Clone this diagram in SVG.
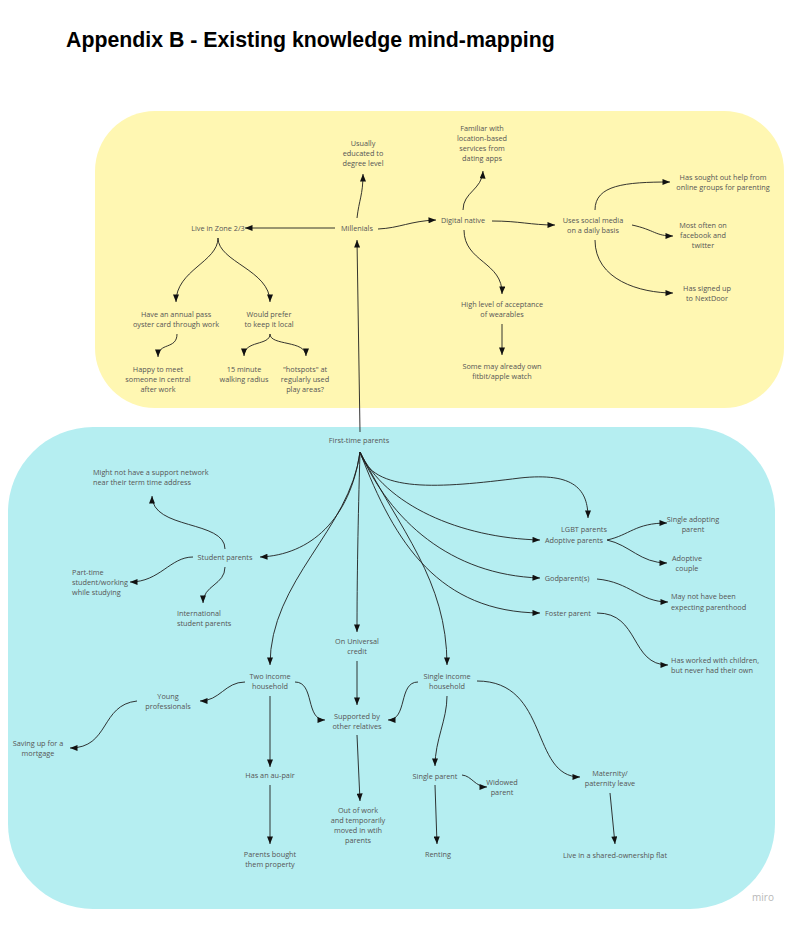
<svg xmlns="http://www.w3.org/2000/svg" width="796" height="952" viewBox="0 0 796 952">
<style>
.t{font-family:"Open Sans","Noto Sans",sans-serif;font-size:7.3px;fill:#555;text-anchor:middle}
.l{text-anchor:start}
.c path{fill:none;stroke:#1e1e1e;stroke-width:0.9;marker-end:url(#ah)}
.title{font-family:"Liberation Sans",Arial,sans-serif;font-weight:bold;font-size:21.3px;fill:#000}
</style>
<defs>
<marker id="ah" viewBox="0 0 10 8" refX="10" refY="4" markerWidth="8.5" markerHeight="6" markerUnits="userSpaceOnUse" orient="auto">
<path d="M0,0 L10,4 L0,8 z" fill="#111"/>
</marker>
</defs>
<rect width="796" height="952" fill="#fff"/>
<text class="title" x="66" y="47">Appendix B - Existing knowledge mind-mapping</text>
<g id="panels">
<rect x="95" y="111" width="689" height="297" rx="60" fill="#fff7b2"/>
<rect x="8" y="427" width="767" height="482" rx="85" fill="#b5eef1"/>
</g>
<g class="c" id="connectors">
<path d="M335,228 L245,228"/>
<path d="M357,218 C359,200 363,195 363,174"/>
<path d="M378,229 C400,228 410,221 436,220"/>
<path d="M360,432 L357,240"/>
<path d="M218,238 C218,262 176,270 176,302"/>
<path d="M218,238 C218,262 270,270 270,302"/>
<path d="M177,334 C177,350 158,342 158,357"/>
<path d="M270,334 C270,346 244,340 244,356"/>
<path d="M270,334 C270,346 306,340 306,356"/>
<path d="M463,210 C463,192 482,190 483,171"/>
<path d="M464,230 C464,262 503,262 502,294"/>
<path d="M492,221 C520,221 530,225 555,225"/>
<path d="M502,324 L502,355"/>
<path d="M595,210 C595,185 625,182 670,182"/>
<path d="M632,225 C655,230 655,236 673,236"/>
<path d="M595,240 C595,280 640,293 673,293"/>
<path d="M360,452 C350,520 310,555 260,557"/>
<path d="M225,549 C225,520 152,530 152,496"/>
<path d="M193,557 C170,557 160,582 130,582"/>
<path d="M225,567 C225,585 203,585 203,603"/>
<path d="M360,452 C350,530 270,580 270,665"/>
<path d="M360,452 C358,520 357,580 357,632"/>
<path d="M360,452 C372,494 440,488 520,478 C575,472 588,490 588,518"/>
<path d="M360,452 C385,505 460,538 540,540"/>
<path d="M360,452 C390,520 450,575 540,578"/>
<path d="M360,452 C395,545 440,612 540,613"/>
<path d="M360,452 C400,530 447,580 447,665"/>
<path d="M607,540 C630,535 635,523 667,523"/>
<path d="M607,540 C630,545 640,563 667,563"/>
<path d="M597,579 C630,582 640,602 668,602"/>
<path d="M597,613 C640,613 630,665 668,665"/>
<path d="M357,661 L357,705"/>
<path d="M245,682 C225,682 220,701 200,701"/>
<path d="M137,701 C100,705 110,748 70,748"/>
<path d="M295,682 C315,682 305,720 325,720"/>
<path d="M418,682 C398,682 408,720 388,720"/>
<path d="M270,696 L270,767"/>
<path d="M270,785 L270,844"/>
<path d="M357,735 L360,801"/>
<path d="M447,696 C447,720 435,740 435,766"/>
<path d="M462,775 C472,776 475,787 487,787"/>
<path d="M435,785 L437,844"/>
<path d="M477,681 C550,681 530,777 580,777"/>
<path d="M610,793 L615,844"/>
</g>
<g id="n-usually"><text class="t" x="363" y="146"><tspan x="363">Usually</tspan><tspan x="363" dy="10">educated to</tspan><tspan x="363" dy="10">degree level</tspan></text></g>
<g id="n-familiar"><text class="t" x="482" y="131"><tspan x="482">Familiar with</tspan><tspan x="482" dy="10">location-based</tspan><tspan x="482" dy="10">services from</tspan><tspan x="482" dy="10">dating apps</tspan></text></g>
<g id="n-zone"><text class="t" x="218" y="231">Live in Zone 2/3</text></g>
<g id="n-millenials"><text class="t" x="357" y="231">Millenials</text></g>
<g id="n-digital"><text class="t" x="463" y="223">Digital native</text></g>
<g id="n-social"><text class="t" x="593" y="223"><tspan x="593">Uses social media</tspan><tspan x="593" dy="10">on a daily basis</tspan></text></g>
<g id="n-sought"><text class="t" x="723" y="180"><tspan x="723">Has sought out help from</tspan><tspan x="723" dy="10">online groups for parenting</tspan></text></g>
<g id="n-facebook"><text class="t" x="703" y="228"><tspan x="703">Most often on</tspan><tspan x="703" dy="10">facebook and</tspan><tspan x="703" dy="10">twitter</tspan></text></g>
<g id="n-nextdoor"><text class="t" x="707" y="291"><tspan x="707">Has signed up</tspan><tspan x="707" dy="10">to NextDoor</tspan></text></g>
<g id="n-wearables"><text class="t" x="502" y="307"><tspan x="502">High level of acceptance</tspan><tspan x="502" dy="10">of wearables</tspan></text></g>
<g id="n-fitbit"><text class="t" x="502" y="369"><tspan x="502">Some may already own</tspan><tspan x="502" dy="10">fitbit/apple watch</tspan></text></g>
<g id="n-oyster"><text class="t" x="176" y="317"><tspan x="176">Have an annual pass</tspan><tspan x="176" dy="10">oyster card through work</tspan></text></g>
<g id="n-local"><text class="t" x="269" y="317"><tspan x="269">Would prefer</tspan><tspan x="269" dy="10">to keep it local</tspan></text></g>
<g id="n-central"><text class="t" x="158" y="372"><tspan x="158">Happy to meet</tspan><tspan x="158" dy="10">someone in central</tspan><tspan x="158" dy="10">after work</tspan></text></g>
<g id="n-walking"><text class="t" x="244" y="372"><tspan x="244">15 minute</tspan><tspan x="244" dy="10">walking radius</tspan></text></g>
<g id="n-hotspots"><text class="t" x="305" y="372"><tspan x="305">"hotspots" at</tspan><tspan x="305" dy="10">regularly used</tspan><tspan x="305" dy="10">play areas?</tspan></text></g>
<g id="n-firsttime"><text class="t" x="359" y="443">First-time parents</text></g>
<g id="n-support"><text class="t l" x="93" y="475"><tspan x="93">Might not have a support network</tspan><tspan x="93" dy="10">near their term time address</tspan></text></g>
<g id="n-student"><text class="t" x="225" y="560">Student parents</text></g>
<g id="n-parttime"><text class="t l" x="72" y="575"><tspan x="72">Part-time</tspan><tspan x="72" dy="10">student/working</tspan><tspan x="72" dy="10">while studying</tspan></text></g>
<g id="n-international"><text class="t l" x="177" y="616"><tspan x="177">International</tspan><tspan x="177" dy="10">student parents</tspan></text></g>
<g id="n-lgbt"><text class="t" x="584" y="532">LGBT parents</text></g>
<g id="n-adoptive"><text class="t" x="574" y="543">Adoptive parents</text></g>
<g id="n-singleadopt"><text class="t" x="693" y="522"><tspan x="693">Single adopting</tspan><tspan x="693" dy="10">parent</tspan></text></g>
<g id="n-couple"><text class="t" x="687" y="561"><tspan x="687">Adoptive</tspan><tspan x="687" dy="10">couple</tspan></text></g>
<g id="n-godparent"><text class="t" x="567" y="581">Godparent(s)</text></g>
<g id="n-expecting"><text class="t l" x="671" y="599"><tspan x="671">May not have been</tspan><tspan x="671" dy="10.5">expecting parenthood</tspan></text></g>
<g id="n-foster"><text class="t" x="568" y="616">Foster parent</text></g>
<g id="n-worked"><text class="t l" x="671" y="663"><tspan x="671">Has worked with children,</tspan><tspan x="671" dy="10">but never had their own</tspan></text></g>
<g id="n-universal"><text class="t" x="357" y="644"><tspan x="357">On Universal</tspan><tspan x="357" dy="10">credit</tspan></text></g>
<g id="n-twoincome"><text class="t" x="270" y="679"><tspan x="270">Two income</tspan><tspan x="270" dy="10">household</tspan></text></g>
<g id="n-singleincome"><text class="t" x="447" y="679"><tspan x="447">Single income</tspan><tspan x="447" dy="10">household</tspan></text></g>
<g id="n-relatives"><text class="t" x="357" y="719"><tspan x="357">Supported by</tspan><tspan x="357" dy="10">other relatives</tspan></text></g>
<g id="n-young"><text class="t" x="168" y="699"><tspan x="168">Young</tspan><tspan x="168" dy="10">professionals</tspan></text></g>
<g id="n-mortgage"><text class="t" x="38" y="746"><tspan x="38">Saving up for a</tspan><tspan x="38" dy="10">mortgage</tspan></text></g>
<g id="n-aupair"><text class="t" x="270" y="778">Has an au-pair</text></g>
<g id="n-property"><text class="t" x="270" y="857"><tspan x="270">Parents bought</tspan><tspan x="270" dy="10">them property</tspan></text></g>
<g id="n-outofwork"><text class="t" x="358" y="813"><tspan x="358">Out of work</tspan><tspan x="358" dy="10">and temporarily</tspan><tspan x="358" dy="10">moved in wtih</tspan><tspan x="358" dy="10">parents</tspan></text></g>
<g id="n-singleparent"><text class="t" x="435" y="779">Single parent</text></g>
<g id="n-widowed"><text class="t" x="502" y="785"><tspan x="502">Widowed</tspan><tspan x="502" dy="10">parent</tspan></text></g>
<g id="n-renting"><text class="t" x="438" y="857">Renting</text></g>
<g id="n-maternity"><text class="t" x="610" y="776"><tspan x="610">Maternity/</tspan><tspan x="610" dy="10">paternity leave</tspan></text></g>
<g id="n-shared"><text class="t" x="615" y="858">Live in a shared-ownership flat</text></g>
<text x="763" y="901" font-family="'Open Sans',sans-serif" font-size="10" fill="#b8b8b8" text-anchor="middle">miro</text>
</svg>
